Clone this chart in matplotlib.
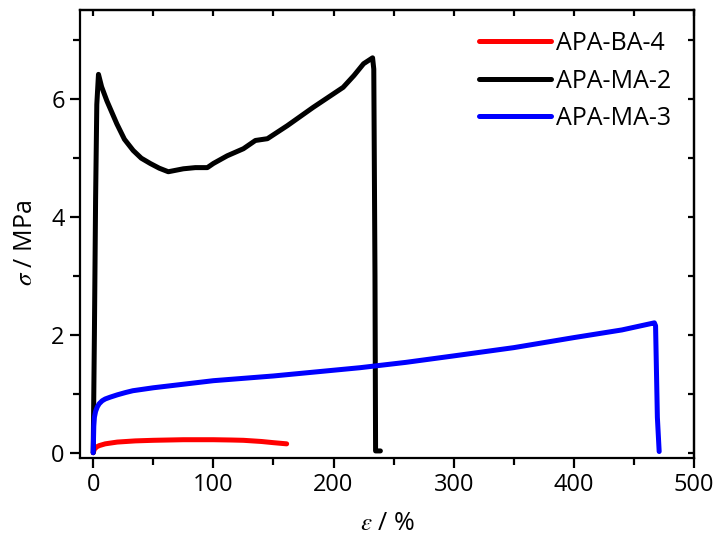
import matplotlib
matplotlib.use('Agg')
import matplotlib.pyplot as plt
from matplotlib.ticker import MultipleLocator

plt.rcParams.update({
    'font.family': ['Open Sans', 'DejaVu Sans'],
    'font.size': 17,
    'mathtext.fontset': 'stix',
})

# --- data (strain %, stress MPa) ---
ba4_x = [0, 1, 3, 5, 10, 20, 35, 50, 75, 100, 115, 125, 140, 150, 161]
ba4_y = [0.0, 0.06, 0.1, 0.12, 0.15, 0.18, 0.2, 0.21, 0.22, 0.22, 0.215, 0.21, 0.19, 0.17, 0.15]

ma2_x = [0, 1, 2, 3, 4.4, 7, 11.4, 19.7, 26, 33.3, 40, 47.5, 55, 62.5, 75, 85, 95, 100,
         111.5, 125, 135, 145, 161.5, 183, 208, 217, 225, 232.5, 233.5, 234.5, 235, 239]
ma2_y = [0.0, 2.0, 4.3, 5.9, 6.41, 6.2, 5.96, 5.57, 5.31, 5.12, 4.99, 4.9, 4.82, 4.76, 4.81,
         4.83, 4.83, 4.9, 5.03, 5.15, 5.29, 5.32, 5.54, 5.85, 6.19, 6.39, 6.59, 6.69, 6.5,
         3.0, 0.03, 0.03]

ma3_x = [0, 0.5, 1, 2, 3.5, 5, 7.5, 10, 14, 20, 27, 33, 50, 75, 100, 150, 222, 260, 300,
         350, 400, 440, 467, 468, 469.5, 471]
ma3_y = [0.0, 0.45, 0.6, 0.7, 0.78, 0.83, 0.88, 0.91, 0.94, 0.98, 1.02, 1.05, 1.1, 1.16,
         1.22, 1.3, 1.44, 1.53, 1.64, 1.78, 1.95, 2.08, 2.2, 2.15, 0.6, 0.02]

labels = ['APA-BA-4', 'APA-MA-2', 'APA-MA-3']
colors = ['#ff0000', '#000000', '#0000ff']

fig = plt.figure(figsize=(7.16, 5.36), dpi=100)
ax = fig.add_axes([0.1117, 0.1455, 0.8576, 0.8358])

for xs, ys, lab, c in zip([ba4_x, ma2_x, ma3_x], [ba4_y, ma2_y, ma3_y], labels, colors):
    ax.plot(xs, ys, color=c, lw=3.6, label=lab, solid_capstyle='round', solid_joinstyle='round')

ax.set_xlim(-11, 500)
ax.set_ylim(-0.09, 7.5)
ax.xaxis.set_major_locator(MultipleLocator(100))
ax.xaxis.set_minor_locator(MultipleLocator(50))
ax.yaxis.set_major_locator(MultipleLocator(2))
ax.yaxis.set_minor_locator(MultipleLocator(1))

for s in ax.spines.values():
    s.set_linewidth(1.6)
ax.tick_params(which='both', direction='out', width=1.6, top=False, right=False, pad=4)
ax.tick_params(which='major', length=7)
ax.tick_params(which='minor', length=5)

# inward ticks on top/right, no labels
axt = ax.secondary_xaxis('top')
axt.xaxis.set_major_locator(MultipleLocator(100))
axt.xaxis.set_minor_locator(MultipleLocator(50))
axt.tick_params(which='both', direction='in', length=4, width=1.6, labeltop=False)
axt.spines['top'].set_linewidth(1.6)
axr = ax.secondary_yaxis('right')
axr.yaxis.set_major_locator(MultipleLocator(2))
axr.yaxis.set_minor_locator(MultipleLocator(1))
axr.tick_params(which='both', direction='in', length=4, width=1.6, labelright=False)
axr.spines['right'].set_linewidth(1.6)

ax.set_xlabel(r'$\varepsilon$ / %', fontsize=18, labelpad=10)
ax.set_ylabel(r'$\sigma$ / MPa', fontsize=18)
ax.yaxis.set_label_coords(-0.068, 0.48)

leg = ax.legend(loc='upper right', frameon=False, fontsize=18, handlelength=2.9,
                handletextpad=0.2, labelspacing=0.5, borderaxespad=0,
                bbox_to_anchor=(0.98, 0.975))

fig.savefig('out.png', dpi=100)
